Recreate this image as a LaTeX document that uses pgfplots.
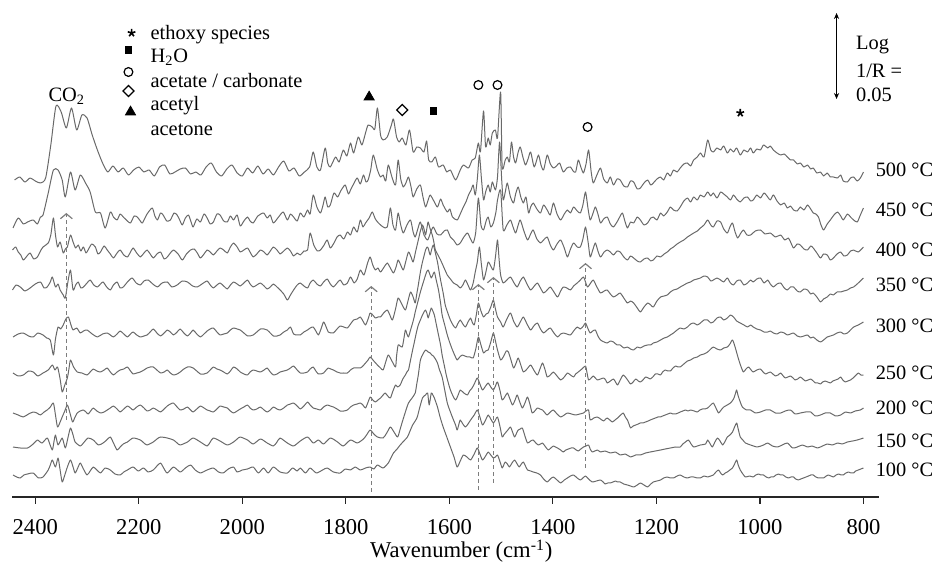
\documentclass[border=0pt]{standalone}
\usepackage{fontspec}
\setmainfont{Liberation Serif}
\usepackage{pgfplots}
\pgfplotsset{compat=1.18}
\usetikzlibrary{arrows.meta}
\definecolor{specgray}{RGB}{105,105,105}
\definecolor{guidegray}{RGB}{125,125,125}
\newcommand{\annfont}{\fontsize{10.2}{12}\selectfont}
\newcommand{\tickfont}{\fontsize{11.3}{13}\selectfont}
\pgfplotsset{
  spec/.style={color=specgray, line width=0.5pt, line join=round, mark=none, smooth, tension=0.4},
}
\tikzset{
  guide/.style={guidegray, line width=0.6pt, dash pattern=on 2pt off 1.5pt,
    -{Straight Barb[length=2.5pt,width=6pt]}},
  lab/.style={anchor=base west, font=\annfont, inner sep=0pt},
}
\begin{document}
\begin{tikzpicture}
\begin{axis}[
  at={(0pt,0pt)}, anchor=south west,
  scale only axis, width=433.5pt, height=248.5pt,
  xmin=770, xmax=2445, x dir=reverse,
  ymin=0, ymax=497,
  axis x line=bottom, axis y line=none, ytick=\empty,
  x axis line style={-, line width=0.75pt, draw=black!85},
  xtick={800,1000,...,2400},
  tick align=outside, major tick length=3.5pt,
  tick style={draw=black!85, line width=0.6pt},
  xticklabel style={font=\tickfont, yshift=-4pt},
  /pgf/number format/1000 sep={},
  /pgf/number format/assume math mode=true,
  clip=false,
]
% 500 C
\addplot[spec] coordinates {(2440,317)(2430,320)(2420,315)(2410,319)(2400,316)(2390,314)(2380,319)(2370,352)(2360,391)(2350,385)(2340,369)(2330,389)(2320,367)(2310,382)(2300,379)(2290,362)(2280,347)(2270,334)(2260,325)(2250,331)(2240,325)(2230,329)(2220,322)(2210,327)(2200,330)(2190,325)(2180,327)(2170,321)(2160,330)(2150,332)(2140,323)(2130,325)(2120,328)(2110,329)(2100,323)(2090,325)(2080,322)(2070,330)(2060,334)(2050,325)(2040,321)(2030,328)(2020,332)(2010,324)(2000,321)(1990,329)(1980,324)(1970,331)(1960,323)(1950,328)(1940,322)(1930,330)(1920,336)(1910,326)(1900,329)(1890,321)(1880,325)(1870,330)(1863,345)(1856,330)(1849,327)(1840,349)(1835,334)(1830,330)(1820,340)(1813,335)(1805,347)(1798,341)(1791,354)(1785,344)(1776,360)(1769,352)(1762,364)(1757,372)(1749,370)(1744,368)(1739,389)(1733,362)(1728,357)(1720,360)(1712,372)(1708,378)(1702,360)(1697,355)(1691,359)(1684,352)(1677,367)(1670,345)(1663,350)(1656,349)(1649,345)(1644,356)(1640,337)(1634,335)(1627,340)(1621,330)(1612,332)(1605,325)(1598,327)(1588,317)(1579,327)(1573,332)(1563,329)(1556,337)(1550,339)(1544,354)(1540,345)(1534,386)(1530,350)(1525,359)(1521,352)(1517,364)(1511,367)(1507,359)(1501,405)(1498,330)(1492,337)(1488,340)(1484,335)(1480,355)(1476,340)(1472,334)(1467,345)(1463,350)(1458,340)(1453,332)(1448,338)(1443,345)(1436,330)(1428,342)(1423,332)(1418,327)(1411,342)(1405,333)(1399,329)(1393,331)(1387,334)(1380,325)(1373,329)(1366,330)(1361,326)(1356,325)(1351,337)(1346,330)(1341,324)(1336,333)(1331,347)(1326,325)(1322,314)(1315,322)(1308,329)(1302,318)(1295,314)(1289,320)(1283,312)(1276,318)(1270,317)(1263,311)(1256,310)(1250,316)(1244,315)(1237,308)(1231,309)(1224,314)(1217,317)(1211,312)(1206,314)(1199,318)(1192,320)(1186,317)(1179,324)(1173,321)(1167,327)(1160,325)(1154,329)(1147,333)(1140,334)(1134,331)(1128,337)(1121,340)(1115,344)(1108,340)(1101,357)(1095,347)(1090,345)(1083,349)(1076,347)(1070,351)(1063,344)(1057,348)(1051,345)(1045,349)(1038,342)(1031,347)(1024,345)(1018,349)(1013,344)(1006,348)(999,347)(993,352)(985,349)(980,351)(974,347)(967,344)(960,342)(953,343)(947,340)(941,337)(935,337)(928,333)(922,334)(915,330)(908,332)(902,328)(897,329)(890,324)(883,325)(877,321)(870,324)(864,320)(858,320)(850,319)(844,322)(839,316)(831,315)(825,319)(819,320)(812,316)(806,319)(800,325)};
% 450 C
\addplot[spec] coordinates {(2443,269)(2433,279)(2423,273)(2415,275)(2404,277)(2396,273)(2390,280)(2385,282)(2375,304)(2365,327)(2356,327)(2348,317)(2342,300)(2332,325)(2323,307)(2313,322)(2303,314)(2294,305)(2284,285)(2274,284)(2265,269)(2255,285)(2249,280)(2242,277)(2236,283)(2230,280)(2222,276)(2216,274)(2209,281)(2203,280)(2197,276)(2193,274)(2184,283)(2174,289)(2169,281)(2164,277)(2158,284)(2153,282)(2146,276)(2139,277)(2132,284)(2126,282)(2121,277)(2116,272)(2110,279)(2104,282)(2099,275)(2095,270)(2088,278)(2081,275)(2074,283)(2068,279)(2062,273)(2056,275)(2049,283)(2043,282)(2036,276)(2029,275)(2023,281)(2017,277)(2010,282)(2004,271)(1997,276)(1990,280)(1985,276)(1979,274)(1970,281)(1959,284)(1952,279)(1946,282)(1940,274)(1930,280)(1921,285)(1913,277)(1907,283)(1901,280)(1894,276)(1888,284)(1881,280)(1874,287)(1869,283)(1863,302)(1856,290)(1849,284)(1844,292)(1840,300)(1835,290)(1830,292)(1823,304)(1816,300)(1810,306)(1805,310)(1801,312)(1795,303)(1791,307)(1784,314)(1778,319)(1772,313)(1766,322)(1761,315)(1757,317)(1752,327)(1747,342)(1739,327)(1733,320)(1728,322)(1723,316)(1718,332)(1711,320)(1704,312)(1699,337)(1694,318)(1689,310)(1684,314)(1679,320)(1674,310)(1670,300)(1663,308)(1656,312)(1651,300)(1646,290)(1641,297)(1637,302)(1630,296)(1623,290)(1617,298)(1612,292)(1604,285)(1599,288)(1594,280)(1585,277)(1579,283)(1573,290)(1568,295)(1563,302)(1558,307)(1554,312)(1550,302)(1546,318)(1542,342)(1538,318)(1534,297)(1530,305)(1525,312)(1521,305)(1517,315)(1511,307)(1507,320)(1503,355)(1499,318)(1496,297)(1492,305)(1488,314)(1482,300)(1476,294)(1472,303)(1467,310)(1462,300)(1457,294)(1452,300)(1447,284)(1443,290)(1438,294)(1431,288)(1424,284)(1418,292)(1411,287)(1405,282)(1399,294)(1392,283)(1385,277)(1378,283)(1372,287)(1366,284)(1360,290)(1353,286)(1347,284)(1342,292)(1337,305)(1332,288)(1328,277)(1323,283)(1318,290)(1313,283)(1308,274)(1302,278)(1295,280)(1289,273)(1283,270)(1275,276)(1266,284)(1261,276)(1256,269)(1250,275)(1244,274)(1237,280)(1231,277)(1224,272)(1217,274)(1211,279)(1206,280)(1199,277)(1192,284)(1186,281)(1179,285)(1173,290)(1167,287)(1160,286)(1154,290)(1147,296)(1140,299)(1134,295)(1128,300)(1121,297)(1115,302)(1108,300)(1101,305)(1095,301)(1090,304)(1083,299)(1076,305)(1070,303)(1063,300)(1057,297)(1051,302)(1045,298)(1038,295)(1031,299)(1024,300)(1018,296)(1013,297)(1006,302)(999,299)(992,304)(985,300)(980,297)(974,302)(967,296)(960,292)(953,294)(947,289)(941,291)(935,287)(928,286)(922,290)(915,287)(908,292)(902,288)(897,284)(892,283)(887,280)(882,272)(877,267)(870,273)(864,277)(857,282)(850,285)(844,281)(839,277)(831,283)(825,280)(819,277)(812,275)(806,282)(800,289)};
% 400 C
\addplot[spec] coordinates {(2444,247)(2438,250)(2433,245)(2428,242)(2423,237)(2416,241)(2410,244)(2403,238)(2396,240)(2390,246)(2385,250)(2375,254)(2370,262)(2365,279)(2361,262)(2357,250)(2352,255)(2346,244)(2342,248)(2338,250)(2332,262)(2327,255)(2322,249)(2317,252)(2312,246)(2307,250)(2302,244)(2298,247)(2291,253)(2284,250)(2279,243)(2274,245)(2267,251)(2261,247)(2255,243)(2249,239)(2242,244)(2236,247)(2229,242)(2222,240)(2216,245)(2211,249)(2204,244)(2197,240)(2190,244)(2184,247)(2178,243)(2172,239)(2165,243)(2158,245)(2151,238)(2145,240)(2139,244)(2133,247)(2124,243)(2116,237)(2108,243)(2100,247)(2093,248)(2087,244)(2081,239)(2074,243)(2068,247)(2062,245)(2056,242)(2049,246)(2043,249)(2036,247)(2029,244)(2023,250)(2017,254)(2010,250)(2004,245)(1997,247)(1990,249)(1984,244)(1979,240)(1972,243)(1965,247)(1958,245)(1952,242)(1946,246)(1940,250)(1933,247)(1927,243)(1920,246)(1913,249)(1907,246)(1901,241)(1894,244)(1888,242)(1881,246)(1874,247)(1869,264)(1862,252)(1855,246)(1849,247)(1842,252)(1836,257)(1830,249)(1823,254)(1817,260)(1811,262)(1804,258)(1797,265)(1791,262)(1785,270)(1778,265)(1772,277)(1767,270)(1762,274)(1755,279)(1749,285)(1743,278)(1737,274)(1728,270)(1720,270)(1714,289)(1709,272)(1704,267)(1699,284)(1694,272)(1689,264)(1682,272)(1675,277)(1670,265)(1666,260)(1661,268)(1656,275)(1649,262)(1642,257)(1636,265)(1631,270)(1624,263)(1617,262)(1610,266)(1604,267)(1598,260)(1592,257)(1585,252)(1579,254)(1572,260)(1565,264)(1559,258)(1554,254)(1549,265)(1544,299)(1539,272)(1534,267)(1529,276)(1525,280)(1520,270)(1515,274)(1510,285)(1507,297)(1501,307)(1496,267)(1489,272)(1482,277)(1477,270)(1472,264)(1467,272)(1463,277)(1456,266)(1449,257)(1443,263)(1438,267)(1431,258)(1424,254)(1418,257)(1411,260)(1405,252)(1399,247)(1392,253)(1385,257)(1378,249)(1372,240)(1366,248)(1360,254)(1353,250)(1347,250)(1342,258)(1337,270)(1332,255)(1328,240)(1323,247)(1318,254)(1313,246)(1308,240)(1301,245)(1295,247)(1289,245)(1283,242)(1276,246)(1270,245)(1263,240)(1256,237)(1250,241)(1244,239)(1237,236)(1231,235)(1224,238)(1217,239)(1211,236)(1206,237)(1199,241)(1192,240)(1185,243)(1179,245)(1173,248)(1167,250)(1160,253)(1154,255)(1147,257)(1140,260)(1134,262)(1128,264)(1121,266)(1115,269)(1108,272)(1101,277)(1095,272)(1090,270)(1083,276)(1076,275)(1070,268)(1063,264)(1058,270)(1053,274)(1048,265)(1043,259)(1038,263)(1032,267)(1025,262)(1018,262)(1009,266)(999,267)(990,263)(980,264)(970,260)(960,262)(952,257)(945,259)(940,254)(935,249)(928,253)(922,252)(915,248)(908,247)(902,251)(897,249)(890,244)(883,239)(877,243)(870,242)(864,237)(858,239)(851,243)(844,245)(838,241)(831,242)(825,246)(819,247)(810,245)(800,250)};
% 350 C
\addplot[spec] coordinates {(2444,207)(2437,212)(2429,210)(2420,206)(2410,209)(2400,213)(2390,215)(2383,209)(2377,210)(2371,215)(2367,220)(2361,210)(2356,213)(2352,207)(2346,202)(2342,199)(2337,215)(2332,227)(2327,207)(2322,212)(2317,215)(2312,209)(2307,210)(2300,214)(2294,217)(2287,212)(2280,210)(2274,213)(2269,215)(2262,210)(2255,207)(2249,212)(2242,215)(2236,209)(2230,210)(2222,215)(2213,219)(2205,214)(2197,212)(2190,216)(2182,217)(2173,213)(2164,210)(2155,214)(2145,215)(2136,210)(2126,212)(2116,216)(2106,215)(2096,211)(2087,210)(2078,213)(2068,216)(2062,212)(2056,209)(2049,212)(2043,214)(2036,211)(2029,208)(2023,212)(2017,215)(2010,213)(2004,211)(1997,214)(1990,217)(1985,213)(1979,210)(1972,212)(1965,214)(1958,211)(1952,208)(1946,210)(1940,213)(1933,210)(1927,207)(1920,203)(1913,197)(1907,202)(1901,207)(1894,212)(1888,214)(1881,211)(1874,209)(1869,214)(1863,217)(1856,213)(1849,211)(1843,215)(1836,218)(1830,213)(1824,210)(1817,214)(1811,217)(1804,212)(1797,214)(1791,220)(1784,214)(1778,218)(1772,227)(1765,222)(1758,234)(1753,240)(1748,232)(1743,227)(1738,229)(1733,225)(1726,230)(1720,234)(1714,229)(1708,224)(1703,230)(1699,237)(1694,232)(1689,227)(1684,236)(1679,245)(1674,240)(1670,235)(1665,246)(1660,257)(1656,266)(1652,272)(1649,268)(1646,262)(1643,270)(1641,275)(1637,268)(1633,262)(1630,255)(1627,247)(1622,242)(1617,237)(1611,230)(1604,222)(1598,218)(1592,214)(1585,212)(1579,209)(1574,212)(1569,217)(1564,212)(1559,207)(1554,214)(1550,225)(1546,235)(1542,250)(1538,232)(1534,217)(1529,226)(1525,235)(1520,231)(1515,227)(1511,240)(1507,257)(1504,238)(1501,222)(1496,214)(1489,217)(1482,220)(1475,214)(1469,210)(1463,216)(1457,220)(1450,213)(1443,207)(1436,211)(1430,214)(1424,209)(1418,204)(1411,207)(1405,210)(1398,205)(1391,200)(1385,206)(1380,210)(1373,209)(1366,207)(1360,211)(1353,214)(1347,217)(1341,220)(1337,215)(1333,210)(1327,214)(1322,217)(1315,210)(1308,204)(1301,206)(1295,207)(1289,203)(1283,200)(1276,202)(1270,204)(1263,199)(1256,194)(1250,196)(1244,194)(1237,189)(1231,185)(1224,190)(1217,194)(1211,192)(1206,190)(1199,196)(1192,200)(1185,201)(1179,202)(1173,205)(1167,207)(1160,208)(1154,210)(1147,212)(1140,214)(1134,215)(1128,217)(1121,218)(1115,219)(1108,221)(1101,220)(1095,216)(1090,217)(1083,219)(1076,217)(1070,215)(1063,219)(1057,214)(1051,212)(1045,216)(1038,217)(1031,212)(1024,214)(1018,217)(1013,215)(1006,218)(999,219)(992,214)(985,217)(980,213)(974,210)(967,213)(960,214)(953,209)(947,207)(941,210)(935,210)(928,206)(922,205)(915,208)(908,207)(902,203)(897,204)(890,200)(883,195)(877,198)(870,200)(864,203)(858,202)(851,205)(844,205)(838,206)(831,207)(825,209)(819,210)(810,214)(800,219)};
% 300 C
\addplot[spec] coordinates {(2443,160)(2433,163)(2423,164)(2413,161)(2404,160)(2395,164)(2385,162)(2378,159)(2371,157)(2365,142)(2361,158)(2356,170)(2351,168)(2346,172)(2341,178)(2336,180)(2331,172)(2327,167)(2320,169)(2313,164)(2307,166)(2300,167)(2290,163)(2280,160)(2270,163)(2261,164)(2255,162)(2249,160)(2242,163)(2236,166)(2229,163)(2222,160)(2216,163)(2211,165)(2204,162)(2197,160)(2190,161)(2184,162)(2178,165)(2172,168)(2165,164)(2158,161)(2151,164)(2145,167)(2139,165)(2133,162)(2126,165)(2120,168)(2113,164)(2106,161)(2100,164)(2095,167)(2088,163)(2081,160)(2074,163)(2068,166)(2062,168)(2056,169)(2049,165)(2043,162)(2036,163)(2029,164)(2023,167)(2017,169)(2010,168)(2004,167)(1997,164)(1990,161)(1985,161)(1979,162)(1972,165)(1965,168)(1958,168)(1952,167)(1946,164)(1940,161)(1933,161)(1927,162)(1920,165)(1913,167)(1907,170)(1901,163)(1894,162)(1888,162)(1881,165)(1874,167)(1869,169)(1863,170)(1858,166)(1853,162)(1848,168)(1843,175)(1838,170)(1834,165)(1829,164)(1824,164)(1817,168)(1811,171)(1804,170)(1797,169)(1791,173)(1785,177)(1778,178)(1772,180)(1767,176)(1762,172)(1757,178)(1753,184)(1748,182)(1743,179)(1738,180)(1733,180)(1727,184)(1720,187)(1715,182)(1710,177)(1704,188)(1699,199)(1692,193)(1685,187)(1680,196)(1675,205)(1670,200)(1666,194)(1663,203)(1660,212)(1656,225)(1652,235)(1649,241)(1646,247)(1643,250)(1641,249)(1639,245)(1637,242)(1634,248)(1631,252)(1627,244)(1623,235)(1620,226)(1617,217)(1612,204)(1608,192)(1603,184)(1598,177)(1593,172)(1588,169)(1584,173)(1579,177)(1574,173)(1569,170)(1564,175)(1559,179)(1556,175)(1552,172)(1548,182)(1544,194)(1539,186)(1534,180)(1529,183)(1525,184)(1520,190)(1515,197)(1511,188)(1507,180)(1501,175)(1496,170)(1489,178)(1482,184)(1476,176)(1469,170)(1463,175)(1457,180)(1450,173)(1443,167)(1437,171)(1430,174)(1424,168)(1418,164)(1411,167)(1405,169)(1398,164)(1391,160)(1385,163)(1380,164)(1373,163)(1366,162)(1360,166)(1353,170)(1347,168)(1341,171)(1337,174)(1332,168)(1328,164)(1323,166)(1318,167)(1313,161)(1308,157)(1301,155)(1295,154)(1289,156)(1283,155)(1276,152)(1270,152)(1263,149)(1256,150)(1250,148)(1244,147)(1237,150)(1231,149)(1224,151)(1217,152)(1211,152)(1206,154)(1199,155)(1192,157)(1185,159)(1179,160)(1173,162)(1167,164)(1160,167)(1154,169)(1147,168)(1140,170)(1134,173)(1128,174)(1121,172)(1115,174)(1108,177)(1101,177)(1095,174)(1090,175)(1083,179)(1076,180)(1070,177)(1063,179)(1057,182)(1051,180)(1045,176)(1038,174)(1031,172)(1024,170)(1018,172)(1013,170)(1006,168)(999,167)(992,165)(985,165)(980,166)(974,164)(967,163)(960,165)(953,164)(947,162)(941,163)(935,164)(928,161)(922,160)(915,161)(908,162)(902,159)(897,160)(890,157)(883,155)(877,157)(870,160)(864,161)(858,162)(851,164)(844,165)(838,163)(831,164)(825,167)(819,170)(810,172)(800,175)};
% 250 C
\addplot[spec] coordinates {(2443,124)(2433,121)(2423,122)(2413,126)(2404,125)(2395,121)(2385,124)(2375,127)(2367,132)(2362,127)(2357,130)(2352,118)(2348,105)(2343,112)(2338,119)(2335,128)(2332,137)(2326,130)(2319,125)(2310,124)(2300,122)(2294,125)(2288,128)(2281,126)(2274,125)(2267,127)(2261,129)(2255,125)(2249,122)(2242,125)(2236,127)(2229,128)(2222,130)(2216,126)(2211,123)(2204,124)(2197,125)(2190,127)(2184,129)(2178,130)(2172,130)(2165,127)(2158,124)(2151,125)(2145,127)(2139,124)(2133,122)(2126,123)(2120,125)(2113,128)(2106,130)(2100,130)(2095,129)(2088,126)(2081,123)(2074,123)(2068,124)(2062,127)(2056,130)(2049,128)(2043,127)(2036,125)(2029,123)(2023,126)(2017,130)(2010,128)(2004,125)(1997,123)(1990,122)(1985,125)(1979,127)(1972,126)(1965,125)(1958,127)(1952,129)(1946,125)(1940,122)(1933,123)(1927,125)(1920,126)(1913,127)(1907,129)(1901,131)(1894,127)(1888,124)(1881,124)(1874,125)(1869,128)(1863,130)(1858,126)(1853,123)(1848,123)(1843,124)(1838,127)(1834,129)(1829,128)(1824,127)(1817,125)(1811,124)(1804,124)(1797,124)(1791,127)(1785,129)(1778,129)(1772,129)(1767,131)(1762,134)(1757,137)(1753,140)(1746,136)(1739,132)(1733,129)(1728,127)(1723,135)(1718,142)(1711,136)(1704,130)(1702,141)(1699,152)(1695,151)(1691,150)(1688,158)(1685,167)(1682,163)(1679,160)(1675,167)(1671,174)(1668,180)(1666,185)(1663,191)(1660,197)(1656,205)(1652,212)(1649,217)(1646,222)(1644,225)(1641,227)(1638,223)(1635,219)(1632,222)(1629,225)(1625,216)(1621,207)(1617,194)(1614,182)(1609,172)(1604,162)(1599,154)(1594,147)(1589,141)(1585,137)(1580,140)(1575,142)(1570,141)(1565,140)(1560,140)(1554,139)(1549,148)(1544,160)(1539,152)(1534,144)(1530,146)(1525,147)(1520,155)(1515,164)(1511,156)(1507,147)(1501,137)(1496,140)(1490,146)(1486,145)(1481,137)(1476,129)(1471,134)(1467,139)(1462,132)(1457,125)(1450,128)(1443,132)(1437,127)(1430,122)(1425,128)(1420,134)(1415,127)(1411,120)(1405,122)(1399,125)(1392,121)(1385,117)(1378,120)(1372,124)(1366,122)(1360,120)(1356,123)(1351,125)(1344,128)(1337,131)(1334,124)(1331,117)(1326,119)(1322,121)(1318,119)(1314,117)(1308,118)(1302,119)(1298,117)(1295,114)(1289,116)(1283,118)(1279,115)(1275,112)(1270,117)(1264,122)(1257,118)(1250,113)(1245,115)(1240,118)(1235,116)(1231,115)(1226,117)(1221,120)(1216,119)(1212,118)(1207,120)(1202,123)(1197,123)(1192,122)(1188,125)(1183,127)(1178,126)(1173,126)(1168,129)(1163,131)(1158,130)(1154,130)(1147,133)(1140,136)(1134,137)(1128,139)(1121,140)(1115,142)(1108,143)(1101,145)(1095,148)(1090,150)(1083,148)(1076,147)(1070,149)(1063,150)(1058,153)(1053,157)(1048,150)(1042,139)(1037,131)(1032,125)(1027,128)(1022,130)(1017,127)(1013,125)(1006,127)(999,128)(994,125)(989,123)(985,124)(980,125)(975,123)(970,121)(965,122)(960,124)(955,121)(951,119)(946,120)(941,121)(936,119)(932,117)(927,118)(922,120)(917,118)(912,116)(907,117)(902,118)(897,116)(893,114)(888,114)(883,113)(879,115)(874,116)(869,115)(864,114)(859,116)(854,117)(849,118)(844,120)(840,117)(835,115)(830,116)(825,117)(820,119)(816,121)(810,124)(805,122)(800,122)};
% 200 C
\addplot[spec] coordinates {(2443,84)(2433,82)(2423,80)(2413,83)(2404,85)(2397,84)(2390,82)(2383,85)(2377,87)(2371,90)(2365,94)(2361,82)(2357,70)(2352,75)(2348,80)(2343,86)(2338,92)(2333,84)(2328,75)(2324,79)(2319,84)(2313,86)(2307,87)(2302,85)(2298,83)(2293,86)(2288,89)(2281,86)(2274,84)(2267,85)(2261,87)(2255,89)(2249,91)(2242,88)(2236,85)(2229,88)(2222,91)(2216,89)(2211,87)(2204,90)(2197,92)(2190,89)(2184,86)(2178,87)(2172,89)(2165,87)(2158,85)(2151,88)(2145,91)(2139,93)(2133,94)(2126,90)(2120,87)(2113,88)(2106,90)(2100,87)(2095,85)(2088,88)(2081,91)(2074,89)(2068,87)(2062,86)(2056,85)(2049,88)(2043,91)(2036,90)(2029,89)(2023,86)(2017,84)(2010,86)(2004,88)(1997,90)(1990,92)(1985,89)(1979,87)(1972,88)(1965,90)(1958,87)(1952,85)(1946,87)(1940,90)(1933,88)(1927,87)(1920,89)(1913,92)(1907,93)(1901,94)(1894,91)(1888,88)(1881,91)(1874,95)(1869,92)(1863,89)(1856,88)(1849,87)(1843,90)(1836,92)(1830,91)(1824,90)(1817,88)(1811,86)(1804,86)(1797,87)(1791,90)(1785,92)(1778,93)(1772,94)(1767,92)(1762,89)(1757,95)(1753,100)(1748,97)(1743,95)(1738,97)(1733,99)(1728,102)(1724,104)(1719,101)(1714,99)(1709,106)(1704,112)(1700,110)(1695,112)(1690,118)(1685,122)(1682,125)(1679,127)(1675,137)(1671,147)(1668,154)(1666,159)(1663,166)(1660,172)(1656,177)(1652,182)(1649,185)(1646,187)(1643,183)(1641,179)(1638,184)(1635,189)(1632,186)(1629,182)(1625,172)(1621,162)(1617,152)(1614,142)(1610,132)(1606,122)(1602,114)(1598,107)(1593,101)(1588,97)(1583,102)(1579,107)(1572,104)(1565,102)(1561,106)(1556,109)(1551,114)(1546,119)(1541,113)(1536,107)(1530,111)(1525,114)(1520,110)(1515,107)(1511,111)(1507,115)(1502,106)(1498,97)(1493,100)(1488,104)(1483,98)(1478,92)(1473,97)(1469,102)(1464,95)(1459,89)(1454,94)(1449,100)(1444,92)(1440,84)(1435,86)(1430,89)(1425,88)(1420,87)(1415,84)(1411,82)(1405,85)(1399,87)(1392,83)(1385,80)(1378,82)(1372,84)(1364,83)(1356,82)(1348,83)(1341,84)(1336,86)(1331,87)(1328,77)(1321,79)(1314,80)(1308,78)(1302,76)(1298,78)(1295,79)(1290,77)(1285,75)(1280,77)(1275,79)(1269,82)(1264,84)(1260,80)(1256,77)(1253,73)(1250,69)(1245,71)(1240,72)(1235,73)(1231,74)(1226,74)(1221,75)(1216,76)(1212,77)(1207,78)(1202,79)(1197,80)(1192,80)(1188,81)(1183,82)(1178,83)(1173,84)(1168,83)(1163,83)(1158,84)(1154,85)(1149,86)(1144,87)(1139,86)(1134,87)(1127,86)(1121,85)(1116,87)(1111,88)(1106,88)(1101,89)(1095,92)(1090,94)(1085,89)(1080,84)(1075,87)(1070,90)(1063,92)(1057,94)(1051,98)(1047,104)(1045,107)(1042,101)(1038,95)(1034,90)(1026,87)(1018,87)(1009,84)(999,85)(989,87)(980,87)(970,84)(960,84)(951,86)(941,87)(932,83)(922,84)(912,85)(902,85)(893,81)(883,82)(874,84)(864,84)(854,81)(844,82)(835,85)(825,84)(816,86)(806,87)(800,89)};
% 150 C
\addplot[spec] coordinates {(2443,50)(2429,49)(2415,49)(2404,53)(2396,57)(2387,54)(2377,59)(2372,53)(2367,47)(2364,55)(2361,62)(2356,52)(2348,59)(2342,49)(2337,59)(2332,69)(2327,62)(2323,55)(2313,51)(2307,54)(2298,59)(2288,57)(2278,52)(2269,54)(2262,57)(2255,60)(2248,53)(2242,47)(2236,50)(2230,53)(2222,55)(2211,59)(2197,57)(2190,54)(2184,52)(2172,55)(2165,58)(2158,60)(2145,59)(2133,57)(2126,54)(2120,52)(2106,55)(2095,59)(2081,55)(2068,51)(2062,55)(2056,59)(2043,56)(2029,52)(2017,55)(2010,58)(2004,60)(1990,57)(1979,53)(1965,58)(1952,54)(1940,51)(1933,55)(1927,59)(1913,54)(1901,51)(1888,56)(1874,60)(1863,54)(1853,57)(1843,53)(1830,59)(1816,55)(1805,51)(1791,57)(1778,54)(1766,58)(1760,62)(1753,67)(1746,63)(1739,60)(1728,59)(1721,64)(1714,70)(1707,65)(1700,60)(1695,68)(1691,75)(1685,85)(1679,94)(1672,99)(1666,104)(1663,113)(1660,122)(1656,137)(1651,143)(1646,147)(1641,145)(1637,144)(1634,142)(1631,141)(1627,138)(1623,134)(1619,127)(1614,120)(1609,107)(1604,94)(1598,85)(1592,77)(1588,72)(1585,67)(1582,72)(1579,77)(1574,73)(1569,70)(1564,73)(1559,77)(1552,82)(1546,87)(1541,80)(1536,72)(1530,77)(1525,82)(1520,78)(1515,74)(1511,77)(1507,80)(1502,70)(1498,60)(1495,62)(1492,64)(1487,67)(1482,70)(1478,65)(1474,60)(1470,64)(1467,67)(1463,68)(1459,69)(1454,61)(1449,54)(1443,56)(1438,57)(1433,54)(1428,52)(1424,53)(1420,54)(1414,50)(1409,47)(1404,49)(1399,51)(1395,50)(1391,49)(1385,47)(1380,45)(1375,47)(1370,48)(1365,49)(1360,49)(1355,47)(1351,46)(1346,48)(1341,50)(1336,51)(1331,52)(1328,48)(1324,45)(1319,46)(1314,47)(1311,46)(1308,45)(1299,46)(1289,44)(1279,45)(1270,42)(1260,43)(1250,40)(1240,42)(1231,42)(1221,44)(1212,45)(1202,46)(1192,47)(1183,48)(1173,49)(1163,50)(1154,50)(1149,53)(1144,55)(1138,57)(1133,53)(1128,50)(1121,51)(1115,52)(1105,53)(1101,57)(1096,53)(1092,50)(1087,55)(1082,59)(1077,56)(1072,52)(1067,56)(1063,60)(1058,62)(1053,65)(1049,70)(1045,74)(1042,68)(1038,60)(1033,57)(1028,54)(1018,52)(1005,50)(993,52)(985,54)(976,51)(966,50)(957,52)(947,54)(937,49)(928,50)(918,52)(908,50)(899,51)(889,49)(879,51)(870,53)(860,52)(850,54)(841,53)(831,55)(821,56)(812,57)(800,59)};
% 100 C
\addplot[spec] coordinates {(2443,22)(2436,20)(2429,19)(2422,22)(2415,23)(2404,24)(2394,19)(2385,20)(2375,27)(2371,32)(2367,37)(2361,30)(2356,39)(2352,27)(2348,15)(2343,22)(2338,30)(2332,37)(2327,30)(2323,24)(2318,29)(2313,34)(2307,28)(2300,22)(2294,26)(2288,30)(2281,27)(2274,24)(2265,29)(2255,27)(2246,23)(2236,22)(2229,25)(2222,27)(2211,30)(2201,26)(2191,29)(2182,25)(2172,27)(2165,31)(2158,34)(2152,29)(2145,24)(2133,30)(2120,25)(2110,29)(2100,32)(2091,27)(2081,24)(2068,27)(2056,29)(2046,25)(2037,24)(2027,28)(2017,30)(2010,25)(2000,27)(1990,28)(1979,30)(1969,24)(1959,29)(1950,24)(1940,30)(1927,25)(1913,24)(1903,29)(1894,26)(1888,29)(1878,24)(1869,29)(1857,24)(1845,27)(1836,29)(1824,25)(1811,24)(1801,28)(1791,27)(1782,30)(1772,27)(1762,29)(1753,30)(1746,28)(1739,32)(1728,29)(1718,34)(1713,39)(1708,44)(1701,48)(1695,52)(1688,56)(1681,60)(1676,66)(1671,72)(1666,76)(1662,80)(1657,90)(1652,99)(1649,101)(1646,102)(1642,104)(1639,92)(1635,104)(1632,102)(1629,99)(1623,90)(1618,80)(1612,70)(1605,60)(1598,50)(1591,40)(1585,30)(1579,36)(1573,42)(1566,40)(1559,37)(1552,43)(1546,49)(1541,43)(1536,37)(1530,41)(1525,45)(1520,42)(1515,39)(1511,40)(1507,42)(1502,35)(1498,29)(1495,32)(1492,35)(1488,33)(1484,30)(1479,34)(1474,37)(1469,33)(1465,30)(1461,33)(1457,35)(1453,31)(1449,27)(1443,26)(1438,25)(1431,24)(1424,22)(1418,18)(1411,15)(1405,18)(1399,20)(1392,17)(1385,14)(1378,17)(1372,19)(1366,21)(1360,22)(1353,19)(1347,17)(1342,19)(1337,21)(1331,18)(1324,15)(1316,16)(1308,17)(1303,15)(1299,13)(1294,14)(1289,14)(1284,15)(1279,16)(1275,15)(1270,15)(1263,13)(1256,12)(1250,11)(1244,10)(1237,12)(1231,14)(1224,12)(1217,10)(1211,13)(1206,15)(1199,16)(1192,17)(1186,19)(1179,20)(1173,19)(1167,19)(1160,21)(1154,22)(1147,20)(1140,19)(1134,20)(1128,20)(1121,19)(1115,19)(1108,21)(1101,20)(1095,21)(1090,22)(1085,25)(1080,27)(1076,24)(1072,22)(1067,24)(1063,25)(1058,27)(1053,29)(1049,33)(1045,37)(1042,32)(1038,27)(1033,23)(1028,20)(1020,21)(1013,20)(1008,22)(1003,23)(998,22)(993,22)(988,20)(983,19)(979,20)(974,20)(969,22)(964,23)(960,22)(955,22)(950,20)(945,19)(940,20)(935,20)(931,18)(926,17)(921,18)(916,19)(911,20)(906,21)(902,22)(897,22)(892,20)(887,19)(882,19)(877,19)(872,21)(868,22)(863,21)(858,20)(853,22)(848,23)(843,22)(839,22)(834,24)(829,25)(824,24)(819,24)(815,26)(810,27)(805,28)(800,29)};

% band markers
\addplot[only marks, mark=triangle*, mark size=2.9pt, black] coordinates {(1755,400) (2216,385)};
\addplot[only marks, mark=square, mark size=1.95pt, black, mark options={rotate=45, line width=0.6pt}] coordinates {(1691,387) (2220,406)};
\addplot[only marks, mark=square*, mark size=1.7pt, black] coordinates {(1631,386) (2220,447)};
\addplot[only marks, mark=o, mark size=2.2pt, black, mark options={line width=0.6pt}] coordinates {(1544,412) (1507,412) (1333,370) (2220,425)};
\addplot[only marks, mark=star, mark size=2.0pt, black, mark options={line width=0.8pt}] coordinates {(1038,384) (2214,464)};

% dashed guides
\draw[guide] (axis cs:2340,77) -- (axis cs:2340,284);
\draw[guide] (axis cs:1751,5) -- (axis cs:1751,211);
\draw[guide] (axis cs:1544,7) -- (axis cs:1544,213);
\draw[guide] (axis cs:1515,14) -- (axis cs:1515,220);
\draw[guide] (axis cs:1337,29) -- (axis cs:1337,234);

% scale bar
\draw[black, line width=0.6pt, {Stealth[length=3pt,width=2.6pt]}-{Stealth[length=3pt,width=2.6pt]}] (axis cs:852,398) -- (axis cs:852,484);
\node[lab] at (axis cs:815,447) {Log};
\node[lab] at (axis cs:815,419) {1/R =};
\node[lab] at (axis cs:815,395) {0.05};

% legend text
\node[lab] at (axis cs:2178,457) {ethoxy species};
\node[lab] at (axis cs:2178,434) {H\textsubscript{2}O};
\node[lab] at (axis cs:2178,409) {acetate / carbonate};
\node[lab] at (axis cs:2178,386) {acetyl};
\node[lab] at (axis cs:2178,361) {acetone};

\node[lab] at (axis cs:2375,395) {CO\textsubscript{2}};

% temperature labels
\node[lab] at (axis cs:777,320) {500 °C};
\node[lab] at (axis cs:777,280) {450 °C};
\node[lab] at (axis cs:777,240) {400 °C};
\node[lab] at (axis cs:777,205) {350 °C};
\node[lab] at (axis cs:777,164) {300 °C};
\node[lab] at (axis cs:777,117) {250 °C};
\node[lab] at (axis cs:777,82) {200 °C};
\node[lab] at (axis cs:777,49) {150 °C};
\node[lab] at (axis cs:777,20) {100 °C};

\node[anchor=base, font=\tickfont, inner sep=0pt] at (axis cs:1577,-61) {Wavenumber (cm\textsuperscript{-1})};
\end{axis}
\pgfresetboundingbox
\path[use as bounding box] (-6pt,-32.5pt) rectangle (460pt,248.5pt);
\end{tikzpicture}
\end{document}
